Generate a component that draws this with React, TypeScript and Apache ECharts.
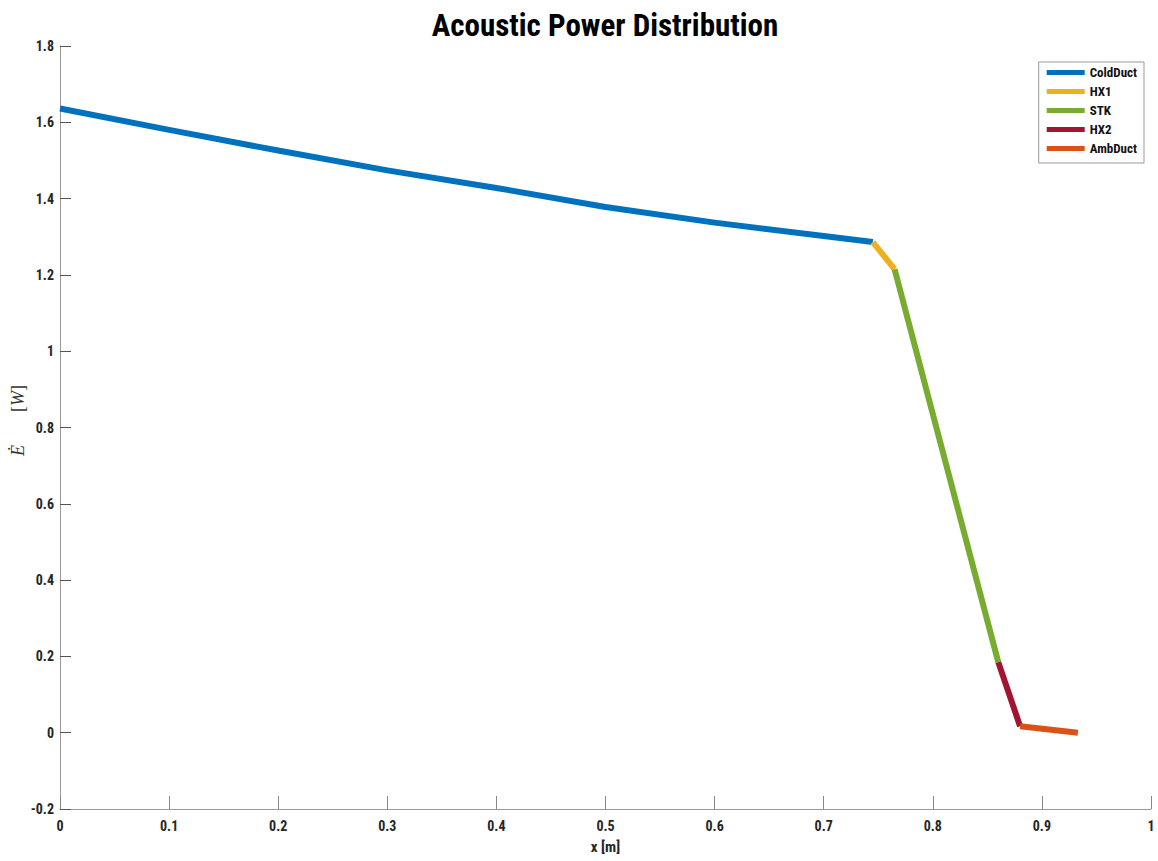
import React, { useEffect, useRef } from "react";
import * as echarts from "echarts";

const seriesNames = ["ColdDuct", "HX1", "STK", "HX2", "AmbDuct"];
const seriesColors = ["#0072BD", "#EDB120", "#77AC30", "#A2142F", "#D95319"];

const coldDuctX = [0, 0.1, 0.2, 0.3, 0.4, 0.5, 0.6, 0.7, 0.745];
const coldDuctY = [1.636, 1.58, 1.526, 1.474, 1.428, 1.378, 1.337, 1.302, 1.286];
const hx1X = [0.745, 0.765];
const hx1Y = [1.286, 1.215];
const stkX = [0.765, 0.86];
const stkY = [1.215, 0.185];
const hx2X = [0.86, 0.88];
const hx2Y = [0.185, 0.017];
const ambDuctX = [0.88, 0.933];
const ambDuctY = [0.017, 0.0];

const xs = [coldDuctX, hx1X, stkX, hx2X, ambDuctX];
const ys = [coldDuctY, hx1Y, stkY, hx2Y, ambDuctY];

const FONT = "'Roboto Condensed', 'Liberation Sans', Arial, sans-serif";
const SERIF = "'Liberation Serif', 'DejaVu Serif', serif";

export default function App() {
  const ref = useRef<HTMLDivElement>(null);
  useEffect(() => {
    if (!ref.current) return;
    const chart = echarts.init(ref.current, undefined, { renderer: "svg" });
    chart.setOption({
      animation: false,
      backgroundColor: "#ffffff",
      title: {
        text: "Acoustic Power Distribution",
        left: 600,
        textAlign: "center",
        top: 5,
        textStyle: { fontFamily: FONT, fontWeight: "bold", fontSize: 31, color: "#000" },
      },
      grid: { left: 60, right: 7, top: 46, bottom: 52, containLabel: false, outerBoundsMode: "none" },
      legend: {
        orient: "vertical",
        right: 14,
        top: 62,
        icon: "rect",
        itemWidth: 38,
        itemHeight: 5,
        itemGap: 6,
        padding: [4, 7, 8, 8],
        backgroundColor: "#fff",
        borderColor: "#999",
        borderWidth: 1,
        borderRadius: 0,
        textStyle: { fontFamily: FONT, fontWeight: "bold", fontSize: 13, color: "#111" },
        data: seriesNames,
      },
      xAxis: {
        type: "value",
        min: 0,
        max: 1,
        interval: 0.1,
        name: "x [m]",
        nameLocation: "middle",
        nameGap: 30,
        nameTextStyle: { fontFamily: FONT, fontWeight: "bold", fontSize: 15, color: "#262626" },
        axisLine: { show: true, onZero: false, lineStyle: { color: "#999", width: 1 } },
        axisTick: { show: true, inside: true, length: 13, lineStyle: { color: "#888" } },
        axisLabel: {
          fontFamily: FONT,
          fontWeight: "bold",
          fontSize: 14,
          color: "#262626",
          margin: 10,
          formatter: (v: number) => String(Math.round(v * 10) / 10),
        },
        splitLine: { show: false },
      },
      yAxis: {
        type: "value",
        min: -0.2,
        max: 1.8,
        interval: 0.2,
        name: "{e|Ė}{g|}{n|[}{i|W}{n|]}",
        nameLocation: "middle",
        nameGap: 33,
        nameMoveOverlap: false,
        nameTextStyle: {
          color: "#333",
          rich: {
            e: { fontFamily: SERIF, fontStyle: "italic", fontSize: 18, color: "#333", padding: [0, 0, 0, 14] },
            g: { width: 33 },
            i: { fontFamily: SERIF, fontStyle: "italic", fontSize: 18, color: "#333" },
            n: { fontFamily: SERIF, fontSize: 18, color: "#333" },
          },
        },
        axisLine: { show: true, onZero: false, lineStyle: { color: "#999", width: 1 } },
        axisTick: { show: true, inside: true, length: 11, lineStyle: { color: "#555" } },
        axisLabel: {
          fontFamily: FONT,
          fontWeight: "bold",
          fontSize: 14,
          color: "#262626",
          margin: 6,
          formatter: (v: number) => String(Math.round(v * 10) / 10),
        },
        splitLine: { show: false },
      },
      series: seriesNames.map((name, i) => ({
        name,
        type: "line",
        data: xs[i].map((x, j) => [x, ys[i][j]]),
        showSymbol: false,
        symbol: "none",
        color: seriesColors[i],
        lineStyle: { width: 6, color: seriesColors[i], cap: "butt", join: "round" },
        z: 2 + i,
      })),
    });
    return () => chart.dispose();
  }, []);
  return <div ref={ref} style={{ position: "absolute", left: 0, top: 0, width: 1158, height: 861 }} />;
}
